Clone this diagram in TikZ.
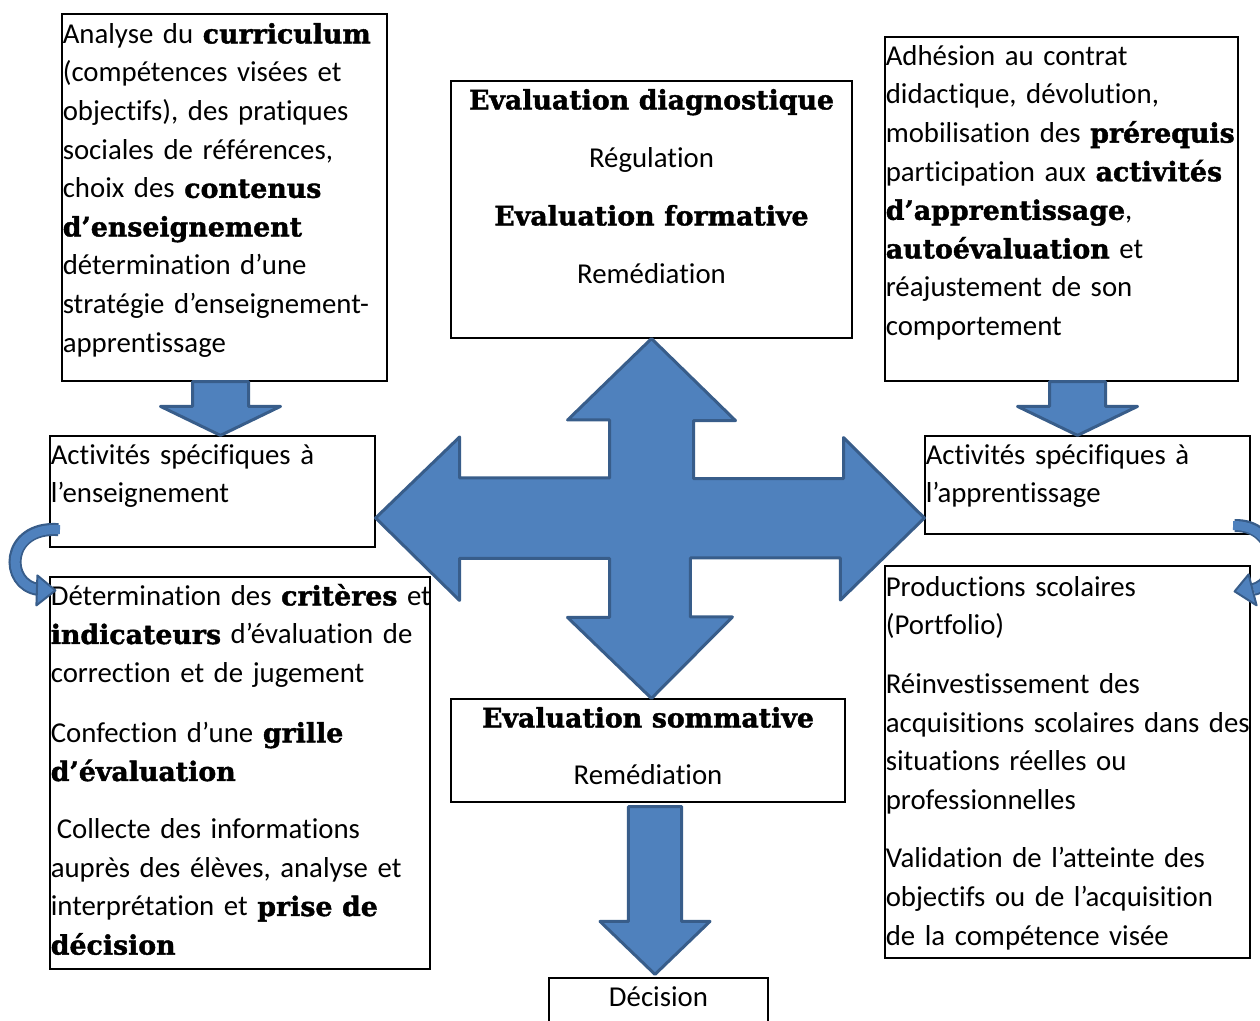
\documentclass[tikz,border=0pt]{standalone}
\usepackage{fontspec}
\setmainfont{Carlito}[Ligatures=NoCommon]
\newfontfamily\cooperfont{DejaVu Serif}[Scale=0.93, BoldFeatures={FakeBold=1.5}]
\usetikzlibrary{calc,fit,positioning}
\definecolor{arrowfill}{HTML}{4F81BD}
\definecolor{arrowline}{HTML}{385D8A}
\newcommand{\hb}[1]{{\cooperfont\bfseries #1}}
\tikzset{
  box/.style={draw, line width=0.6pt, inner sep=0pt},
  txt/.style={anchor=base west, inner sep=0pt, align=left, text width=240pt,
    font=\fontsize{14.4}{19.3}\selectfont},
  ctxt/.style={anchor=base, inner sep=0pt, align=center, text width=200pt,
    font=\fontsize{14.4}{19.3}\selectfont},
  blockarrow/.style={fill=arrowfill, draw=arrowline, line width=1.5pt, line join=round},
  % vertical block arrow: shaft half width, head half width, head length
  blockdown/.style n args={3}{to path={let \p1=(\tikztostart), \p2=(\tikztotarget) in
    (\x1-#1,\y1) -- (\x1-#1,\y2+#3) -- (\x1-#2,\y2+#3) -- (\x1,\y2)
    -- (\x1+#2,\y2+#3) -- (\x1+#1,\y2+#3) -- (\x1+#1,\y1) -- cycle}},
  bandout/.style={draw=arrowline, line width=6.5pt},
  bandin/.style={draw=arrowfill, line width=4.5pt},
}
\begin{document}
\begin{tikzpicture}[x=0.5pt,y=-0.5pt]
\useasboundingbox (0,0) rectangle (1260,1021);
\clip (0,0) rectangle (1260,1021);

% boxes
\node[box, fit={(62,14) (387,381)}] (tl) {};
\node[box, fit={(451,81) (852,338)}] (tc) {};
\node[box, fit={(885,37) (1238,381)}] (tr) {};
\node[box, fit={(50,436) (375,547)}] (ae) {};
\node[box, fit={(925,436) (1250,534)}] (ap) {};
\node[box, fit={(50,577) (430,969)}] (lb) {};
\node[box, fit={(885,566) (1250,958)}] (rb) {};
\node[box, fit={(451,699) (845,802)}] (bs) {};
\node[box, fit={(549,978) (768,1040)}] (dec) {};

% texts
\node[txt] (tltext) at ($(tl.north west)+(1,30)$) {Analyse du \hb{curriculum}\\
(compétences visées et\\
objectifs), des pratiques\\
sociales de références,\\
choix des \hb{contenus}\\
\hb{d’enseignement}\\
détermination d’une\\
stratégie d’enseignement-\\
apprentissage};

\node[ctxt] (tctext) at ($(tc.north)+(0,29)$) {\hb{Evaluation diagnostique}\\[9.7pt]
Régulation\\[9.7pt]
\hb{Evaluation formative}\\[9.7pt]
Remédiation};

\node[txt] (trtext) at ($(tr.north west)+(1,29)$) {Adhésion au contrat\\
didactique, dévolution,\\
mobilisation des \hb{prérequis}\\
participation aux \hb{activités}\\
\hb{d’apprentissage},\\
\hb{autoévaluation} et\\
réajustement de son\\
comportement};

\node[txt] (aetext) at ($(ae.north west)+(1,29)$) {Activités spécifiques à\\
l’enseignement};

\node[txt] (aptext) at ($(ap.north west)+(1,29)$) {Activités spécifiques à\\
l’apprentissage};

\node[txt] (lbtext) at ($(lb.north west)+(1,29)$) {Détermination des \hb{critères} et\\
\hb{indicateurs} d’évaluation de\\
correction et de jugement\\[10.6pt]
Confection d’une \hb{grille}\\
\hb{d’évaluation}\\[9.6pt]
\hspace{3pt}Collecte des informations\\
auprès des élèves, analyse et\\
interprétation et \hb{prise de}\\
\hb{décision}};

\node[txt] (rbtext) at ($(rb.north west)+(1,31)$) {Productions scolaires\\
(Portfolio)\\[10pt]
Réinvestissement des\\
acquisitions scolaires dans des\\
situations réelles ou\\
professionnelles\\[10pt]
Validation de l’atteinte des\\
objectifs ou de l’acquisition\\
de la compétence visée};

\node[ctxt] (bstext) at ($(bs.north)+(0,29)$) {\hb{Evaluation sommative}\\[9.2pt]
Remédiation};

\node[ctxt] (dectext) at ($(dec.north)+(0,29)$) {Décision};

% block arrows
\draw[blockarrow] ([xshift=-2pt]tl.south) to[blockdown={14pt}{30pt}{14.5pt}] ([xshift=-2pt]tl.south |- ae.north);
\draw[blockarrow] ([xshift=8pt]tr.south) to[blockdown={14pt}{30pt}{14.5pt}] ([xshift=8pt]tr.south |- ap.north);
\draw[blockarrow] ([xshift=3.5pt,yshift=-2pt]bs.south) to[blockdown={13.3pt}{27.5pt}{26.5pt}] ([xshift=3.5pt,yshift=1.5pt]bs.south |- dec.north);

% four-way arrow
\coordinate (mid) at (tc.south |- 0,518);
\draw[blockarrow] (tc.south) -- ++(84,82) -- ++(-42,0) -- ++(0,58) -- ++(150,0) -- ++(0,-41)
  -- (ap.west |- mid) -- ++(-84,82) -- ++(0,-42) -- ++(-150,0) -- ++(0,59) -- ++(42,0)
  -- (bs.north -| mid) -- ++(-84,-81) -- ++(42,0) -- ++(0,-59) -- ++(-150,0) -- ++(0,42)
  -- (ae.east |- mid) -- ++(84,-81) -- ++(0,41) -- ++(150,0) -- ++(0,-58) -- ++(-42,0) -- cycle;

% curved arrows
\coordinate (lstart) at ($(ae.south west)+(9,-18)$);
\coordinate (lend) at ($(lb.north west)+(-11,13)$);
\draw[bandout] (lstart) .. controls (5,526) and (4,585) .. (lend);
\draw[bandin] ([xshift=0.8pt]lstart) .. controls (5,526) and (4,585) .. (lend);
\fill[arrowfill, draw=arrowline, line width=1pt, line join=round]
  ($(lb.north west)+(-12,-1)$) -- ($(lb.north west)+(6,14)$) -- ($(lb.north west)+(-13,29)$) -- cycle;

\coordinate (rstart) at ($(ap.south east)+(-16,-9)$);
\coordinate (rend) at ($(rb.north east)+(3,24)$);
\draw[bandout] (rstart) .. controls (1278,524) and (1284,582) .. (rend);
\draw[bandin] ([xshift=-0.8pt]rstart) .. controls (1278,524) and (1284,582) .. (rend);
\fill[arrowfill, draw=arrowline, line width=1pt, line join=round]
  ($(rb.north east)+(-2,9)$) -- ($(rb.north east)+(-16,26)$) -- ($(rb.north east)+(6,40)$) -- cycle;
\end{tikzpicture}
\end{document}
